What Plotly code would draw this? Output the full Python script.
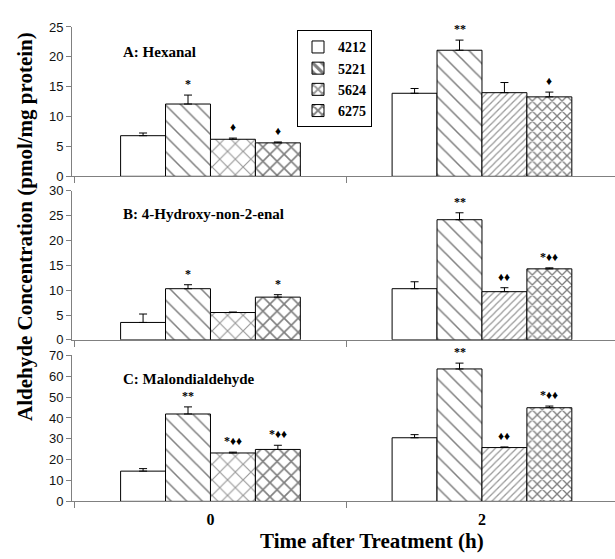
import plotly.graph_objects as go

# ---------------- data ----------------
times = ["0", "2"]
strains = ["4212", "5221", "5624", "6275"]

hexanal_mean = [[6.8, 13.9], [12.1, 21.1], [6.2, 14.0], [5.6, 13.3]]
hexanal_err = [[0.45, 0.8], [1.5, 1.7], [0.2, 1.7], [0.15, 0.8]]
hexanal_sig = [["", ""], ["*", "**"], ["♦", ""], ["♦", "♦"]]

hne_mean = [[3.5, 10.3], [10.3, 24.2], [5.5, 9.7], [8.6, 14.3]]
hne_err = [[1.7, 1.4], [0.8, 1.4], [0.1, 0.8], [0.5, 0.2]]
hne_sig = [["", ""], ["*", "**"], ["", "♦♦"], ["*", "*♦♦"]]

mda_mean = [[14.5, 30.5], [41.9, 63.5], [23.2, 25.8], [24.9, 44.9]]
mda_err = [[1.2, 1.5], [3.4, 2.8], [0.4, 0.3], [2.0, 0.8]]
mda_sig = [["", ""], ["**", "**"], ["*♦♦", "♦♦"], ["*♦♦", "*♦♦"]]

panel_titles = ["A: Hexanal", "B: 4-Hydroxy-non-2-enal", "C: Malondialdehyde"]
y_ranges = [[0, 25], [0, 30], [0, 70]]
y_dtick = [5, 5, 10]

# ---------------- styles ----------------
W, H = 615, 559
SERIF = "Liberation Serif"
SANS = "Liberation Sans"
AXC = "#808080"

pat_shape = [["", ""], ["\\", "\\"], ["x", "/"], ["x", "x"]]
pat_size = [[8, 8], [11, 11], [11, 5], [10, 7]]
pat_sol = [[0.1, 0.1], [0.14, 0.14], [0.2, 0.25], [0.3, 0.35]]
pat_fg = ["#000", "#000", "#333", "#000"]

bargap = 0.338
xrange_ = [-0.51, 1.49]

panel_px = [(20.5, 174), (189, 342), (358, 508)]
x_left_px = 72

fig = go.Figure()
panels = [(hexanal_mean, hexanal_err, hexanal_sig),
          (hne_mean, hne_err, hne_sig),
          (mda_mean, mda_err, mda_sig)]

annotations = []
bw = (1 - bargap) / len(strains)
offsets = [-(1 - bargap) / 2 + bw * (i + 0.5) for i in range(len(strains))]

for p, (means, errs, sigs) in enumerate(panels):
    xa = "x" if p == 0 else f"x{p+1}"
    ya = "y" if p == 0 else f"y{p+1}"
    for i, s in enumerate(strains):
        fig.add_trace(go.Bar(
            x=times, y=means[i], name=s, xaxis=xa, yaxis=ya,
            showlegend=(p == 0),
            marker=dict(color="white",
                        line=dict(color="black", width=1),
                        pattern=dict(shape=pat_shape[i], size=pat_size[i],
                                     solidity=pat_sol[i], fgcolor=pat_fg[i],
                                     bgcolor="white")),
            error_y=dict(type="data", array=errs[i], arrayminus=[0, 0],
                         symmetric=False, color="black", thickness=1, width=4),
        ))
        for j, t in enumerate(times):
            if sigs[i][j]:
                annotations.append(dict(
                    x=j + offsets[i], y=means[i][j] + errs[i][j],
                    xref=xa, yref=ya, text=f"<b>{sigs[i][j]}</b>", showarrow=False,
                    yanchor="bottom", yshift=2,
                    font=dict(family=SERIF, size=12, color="#000000")))

layout_axes = {}
for p in range(3):
    top, bot = panel_px[p]
    xkey = "xaxis" if p == 0 else f"xaxis{p+1}"
    ykey = "yaxis" if p == 0 else f"yaxis{p+1}"
    ya = "y" if p == 0 else f"y{p+1}"
    xa = "x" if p == 0 else f"x{p+1}"
    layout_axes[xkey] = dict(
        domain=[x_left_px / W, 1.0], anchor=ya, type="category",
        range=xrange_, tickson="boundaries", ticks="outside", ticklen=6,
        tickcolor=AXC, showline=True, linecolor=AXC, linewidth=1,
        showgrid=False, zeroline=False, showticklabels=(p == 2),
        ticklabelstandoff=3,
        tickfont=dict(family=SERIF, size=16, color="black", weight="bold"),
    )
    layout_axes[ykey] = dict(
        domain=[1 - bot / H, 1 - top / H], anchor=xa, range=y_ranges[p],
        dtick=y_dtick[p], tick0=0, ticks="outside", ticklen=5, tickcolor=AXC,
        showline=True, linecolor=AXC, linewidth=1, showgrid=False,
        zeroline=False, tickfont=dict(family=SANS, size=13, color="#111"),
    )
    annotations.append(dict(
        x=121 / W, y=1 - (top + 26) / H if p == 0 else 1 - (top + 24) / H,
        xref="paper", yref="paper", xanchor="left", yanchor="middle",
        text=f"<b>{panel_titles[p]}</b>", showarrow=False,
        font=dict(family=SERIF, size=15, color="black")))

# axis titles
annotations.append(dict(
    x=25 / W, y=1 - 226 / H, xref="paper", yref="paper", textangle=-90,
    text="<b>Aldehyde Concentration (pmol/mg protein)</b>", showarrow=False,
    xanchor="center", yanchor="middle",
    font=dict(family=SERIF, size=21, color="black")))
annotations.append(dict(
    x=372 / W, y=1 - 549 / H, xref="paper", yref="paper",
    text="<b>Time after Treatment (h)</b>", showarrow=False,
    xanchor="center", yanchor="middle",
    font=dict(family=SERIF, size=21, color="black")))

fig.update_layout(
    width=W, height=H, margin=dict(l=0, r=0, t=0, b=0),
    paper_bgcolor="white", plot_bgcolor="white",
    barmode="group", bargap=bargap, bargroupgap=0,
    showlegend=True,
    legend=dict(x=297 / W, y=1 - 24 / H, xanchor="left", yanchor="top",
                bgcolor="white", bordercolor="black", borderwidth=1,
                font=dict(family=SERIF, size=14, color="black", weight="bold"),
                itemwidth=30, tracegroupgap=0),
    annotations=annotations,
    **layout_axes,
)

fig.write_html("out.html")
